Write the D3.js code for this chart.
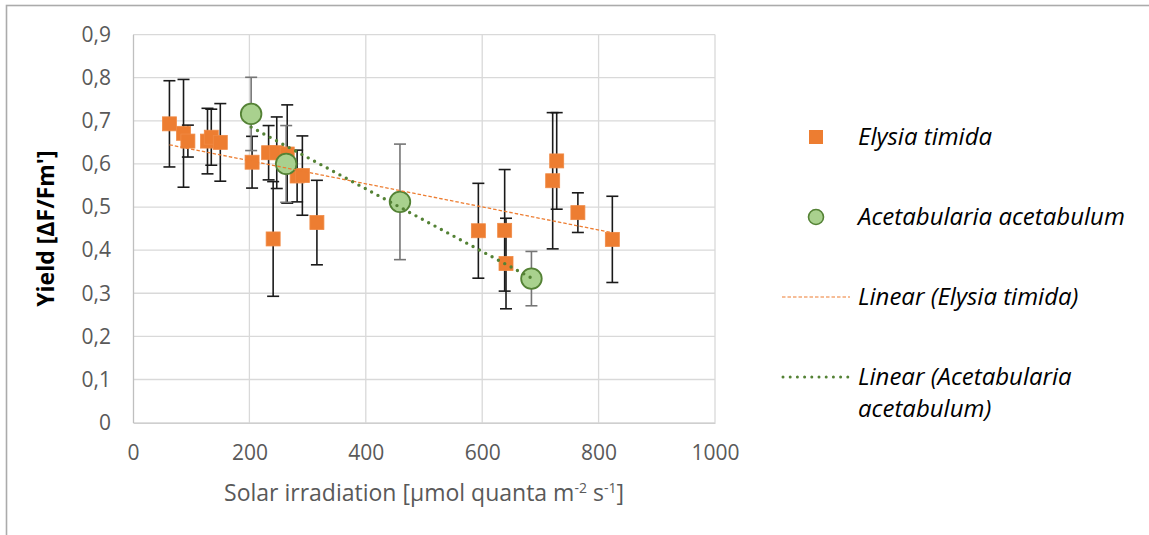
<!DOCTYPE html>
<html>
<head>
<meta charset="utf-8">
<script src="https://cdn.jsdelivr.net/npm/d3@7"></script>
<style>
  html, body { margin: 0; padding: 0; background: #fff; }
  svg { display: block; }
</style>
</head>
<body>
<svg id="chart" width="1149" height="535"></svg>
<script>
// ---- data ----
const elysiaX   = [62.6, 86.8, 94.3, 128, 134.5, 150, 204.6, 233, 240.8, 247, 265, 282, 291, 316, 593.4, 638.6, 640.9, 721.1, 728, 764.4, 823.6];
const elysiaY   = [0.693, 0.671, 0.653, 0.653, 0.662, 0.65, 0.604, 0.626, 0.426, 0.626, 0.623, 0.572, 0.573, 0.464, 0.445, 0.446, 0.369, 0.561, 0.607, 0.487, 0.425];
const elysiaErr = [0.1, 0.125, 0.037, 0.076, 0.065, 0.09, 0.06, 0.063, 0.133, 0.083, 0.114, 0.06, 0.092, 0.098, 0.11, 0.141, 0.105, 0.158, 0.112, 0.046, 0.1];

const acetX   = [203, 263.2, 458.7, 684.6];
const acetY   = [0.716, 0.6, 0.512, 0.334];
const acetErr = [0.085, 0.089, 0.134, 0.063];

const xTicks = [0, 200, 400, 600, 800, 1000];
const yTicks = [0, 0.1, 0.2, 0.3, 0.4, 0.5, 0.6, 0.7, 0.8, 0.9];
const seriesNames = ["Elysia timida", "Acetabularia acetabulum"];

// ---- layout ----
const svg = d3.select("#chart");
const x = d3.scaleLinear().domain([0, 1000]).range([133, 715]);
const y = d3.scaleLinear().domain([0, 0.9]).range([422.6, 34.6]);
const orange = "#ED7D31", greenFill = "#A9D18E", greenStroke = "#548235";
const tickFont = "'Open Sans', 'Liberation Sans', sans-serif";

// chart border
svg.append("rect").attr("x", 6.5).attr("y", 5.5).attr("width", 1300).attr("height", 700)
  .attr("fill", "none").attr("stroke", "#ababab").attr("stroke-width", 1.6);

// gridlines
const grid = svg.append("g");
grid.selectAll("line.h").data(yTicks.filter(d => d > 0)).join("line")
  .attr("x1", x(0)).attr("x2", x(1000)).attr("y1", d => y(d)).attr("y2", d => y(d))
  .attr("stroke", "#d9d9d9").attr("stroke-width", 1.3);
grid.selectAll("line.v").data(xTicks.filter(d => d > 0)).join("line")
  .attr("y1", y(0)).attr("y2", y(0.9)).attr("x1", d => x(d)).attr("x2", d => x(d))
  .attr("stroke", "#d9d9d9").attr("stroke-width", 1.3);

// axes
const xAxis = d3.axisBottom(x).tickValues(xTicks).tickSize(0).tickPadding(22).tickFormat(d3.format("d"));
const yAxis = d3.axisLeft(y).tickValues(yTicks).tickSize(0).tickPadding(22)
  .tickFormat(d => d === 0 ? "0" : d3.format(".1f")(d).replace(".", ","));
const gx = svg.append("g").attr("transform", `translate(0,${y(0)})`).call(xAxis);
const gy = svg.append("g").attr("transform", `translate(${x(0)},0)`).call(yAxis);
[gx, gy].forEach(g => {
  g.select(".domain").attr("stroke", "#bfbfbf").attr("stroke-width", 1.3);
  g.selectAll("text").attr("font-family", tickFont).attr("font-size", 21).attr("fill", "#595959");
});

// error bars
function errBars(xs, ys, es, color) {
  const g = svg.append("g").attr("stroke", color).attr("stroke-width", 1.6);
  xs.forEach((xv, i) => {
    const cx = x(xv), t = y(ys[i] + es[i]), b = y(ys[i] - es[i]);
    g.append("line").attr("x1", cx).attr("x2", cx).attr("y1", t).attr("y2", b);
    g.append("line").attr("x1", cx - 6).attr("x2", cx + 6).attr("y1", t).attr("y2", t);
    g.append("line").attr("x1", cx - 6).attr("x2", cx + 6).attr("y1", b).attr("y2", b);
  });
}
errBars(elysiaX, elysiaY, elysiaErr, "#1a1a1a");
errBars(acetX, acetY, acetErr, "#757575");

// markers
svg.append("g").selectAll("rect").data(elysiaX.map((d, i) => [d, elysiaY[i]])).join("rect")
  .attr("x", d => x(d[0]) - 7).attr("y", d => y(d[1]) - 7).attr("width", 14).attr("height", 14)
  .attr("fill", orange).attr("stroke", "#F08A45").attr("stroke-width", 0.8);
svg.append("g").selectAll("circle").data(acetX.map((d, i) => [d, acetY[i]])).join("circle")
  .attr("cx", d => x(d[0])).attr("cy", d => y(d[1])).attr("r", 10.3)
  .attr("fill", greenFill).attr("stroke", greenStroke).attr("stroke-width", 1.8);

// linear trend lines (least squares)
function fit(xs, ys) {
  const mx = d3.mean(xs), my = d3.mean(ys);
  let sxy = 0, sxx = 0;
  xs.forEach((v, i) => { sxy += (v - mx) * (ys[i] - my); sxx += (v - mx) * (v - mx); });
  const m = sxy / sxx, c = my - m * mx;
  const [a, b] = d3.extent(xs);
  return [[a, m * a + c], [b, m * b + c]];
}
const line = d3.line().x(d => x(d[0])).y(d => y(d[1]));
svg.append("path").attr("d", line(fit(elysiaX, elysiaY))).attr("fill", "none")
  .attr("stroke", orange).attr("stroke-width", 1.3).attr("stroke-dasharray", "3.5,2");
svg.append("path").attr("d", line(fit(acetX, acetY))).attr("fill", "none")
  .attr("stroke", greenStroke).attr("stroke-width", 3.4).attr("stroke-linecap", "round")
  .attr("stroke-dasharray", "0,7.2");

// axis titles
svg.append("text").attr("x", (x(0) + x(1000)) / 2).attr("y", 501).attr("text-anchor", "middle")
  .attr("font-family", tickFont).attr("font-size", 23).attr("fill", "#595959")
  .call(t => {
    t.append("tspan").text("Solar irradiation [µmol quanta m");
    t.append("tspan").attr("dy", -8).attr("font-size", 14).text("-2");
    t.append("tspan").attr("dy", 8).text(" s");
    t.append("tspan").attr("dy", -8).attr("font-size", 14).text("-1");
    t.append("tspan").attr("dy", 8).text("]");
  });
svg.append("text").attr("transform", `translate(46,${(y(0) + y(0.9)) / 2}) rotate(-90)`)
  .attr("text-anchor", "middle").attr("dy", "0.35em")
  .attr("font-family", tickFont).attr("font-size", 23).attr("font-weight", "bold").attr("fill", "#000")
  .text("Yield [ΔF/Fm']");

// legend
const lg = svg.append("g").attr("font-family", tickFont).attr("font-size", 24)
  .attr("font-style", "italic").attr("fill", "#000");
lg.append("rect").attr("x", 809).attr("y", 130).attr("width", 14).attr("height", 14).attr("fill", orange);
lg.append("text").attr("x", 858).attr("y", 137).attr("dy", "0.35em").text(seriesNames[0]);
lg.append("circle").attr("cx", 816).attr("cy", 217).attr("r", 7.5)
  .attr("fill", greenFill).attr("stroke", greenStroke).attr("stroke-width", 1.6);
lg.append("text").attr("x", 858).attr("y", 217).attr("dy", "0.35em").text(seriesNames[1]);
lg.append("line").attr("x1", 782).attr("x2", 850).attr("y1", 297).attr("y2", 297)
  .attr("stroke", orange).attr("stroke-width", 1.2).attr("stroke-dasharray", "3.5,2");
lg.append("text").attr("x", 858).attr("y", 297).attr("dy", "0.35em").text(`Linear (${seriesNames[0]})`);
lg.append("line").attr("x1", 783).attr("x2", 850).attr("y1", 377).attr("y2", 377)
  .attr("stroke", greenStroke).attr("stroke-width", 3).attr("stroke-linecap", "round").attr("stroke-dasharray", "0,7.2");
lg.append("text").attr("x", 858).attr("y", 377).attr("dy", "0.35em").text("Linear (Acetabularia");
lg.append("text").attr("x", 858).attr("y", 409).attr("dy", "0.35em").text("acetabulum)");
</script>
</body>
</html>
